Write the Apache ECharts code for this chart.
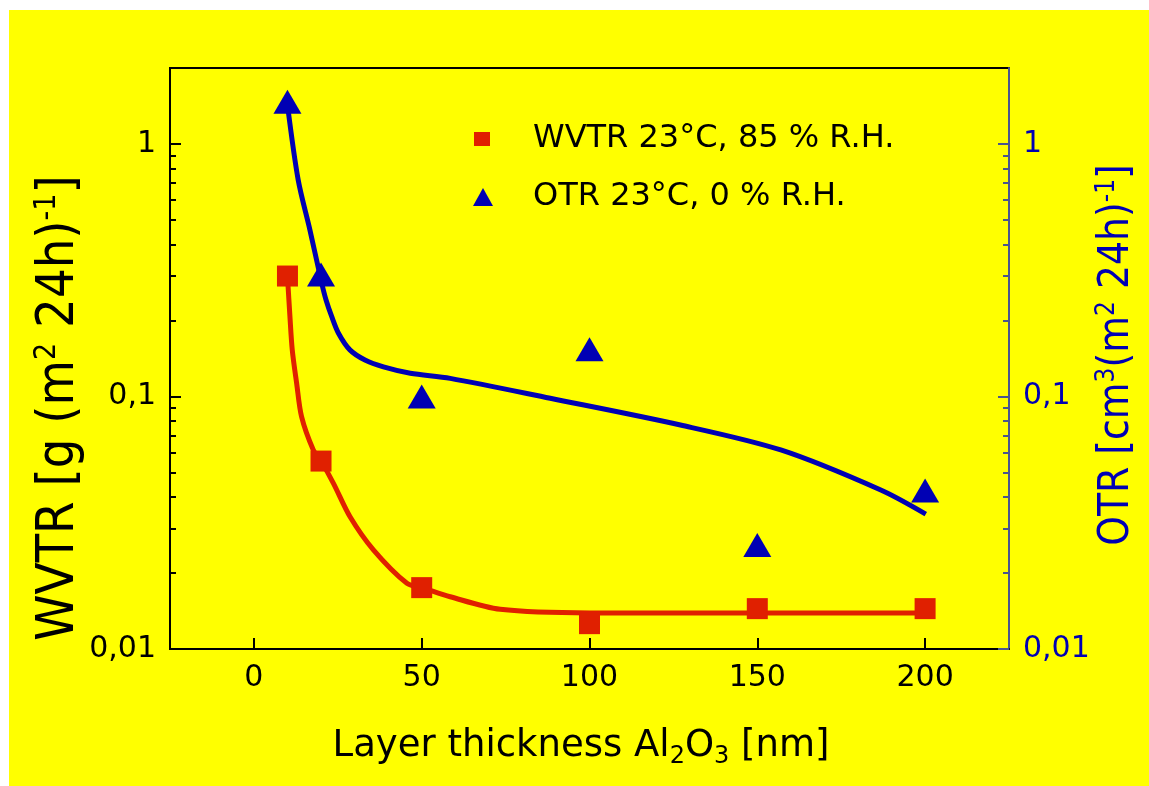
<!DOCTYPE html>
<html>
<head>
<meta charset="utf-8">
<title>WVTR / OTR vs Al2O3 layer thickness</title>
<script src="https://cdn.jsdelivr.net/npm/echarts@6/dist/echarts.min.js"></script>
<style>
  html, body { margin: 0; padding: 0; background: #fff; }
  #chart { width: 1149px; height: 786px; }
</style>
</head>
<body>
<div id="chart"></div>
<script>
const FONT = '"DejaVu Sans", sans-serif';
const FONT_C = '"DejaVu Sans Condensed", "DejaVu Sans", sans-serif';
const RED = '#e02000';
const BLUE = '#0000b4';

// measured points
const thickness = [10, 20, 50, 100, 150, 200];
const wvtr = [0.30, 0.0555, 0.0175, 0.0126, 0.01445, 0.01445];
const otr = [1.47, 0.304, 0.1, 0.154, 0.0258, 0.0424];

// fit curves
const wvtrFitX = [10, 10.74, 11.43, 12.74, 14.2, 17.7, 20, 23.7, 28.65, 35.6, 45.6, 50, 58.5, 73.4, 100, 150, 200];
const wvtrFitY = [0.30, 0.207, 0.1528, 0.1128, 0.0832, 0.0614, 0.0555, 0.0453, 0.0334, 0.0247, 0.0182, 0.0175, 0.0161, 0.01436, 0.0139, 0.0139, 0.0139];
const otrFitX = [10, 13.2, 16.7, 20.2, 21.5, 23.2, 25.2, 28.6, 33.1, 38.6, 46.6, 58.5, 88.3, 127.1, 157, 186.8, 200.2];
const otrFitY = [1.43, 0.72, 0.456, 0.2815, 0.241, 0.207, 0.178, 0.153, 0.1395, 0.131, 0.1236, 0.118, 0.0984, 0.0771, 0.0614, 0.0426, 0.0342];

// ticks
const xTicks = [0, 50, 100, 150, 200];
const yMajor = [0.01, 0.1, 1];
const yMinor = [0.02, 0.03, 0.04, 0.05, 0.06, 0.07, 0.08, 0.09,
                0.2, 0.3, 0.4, 0.5, 0.6, 0.7, 0.8, 0.9];

const pairs = (xs, ys) => xs.map((x, i) => [x, ys[i]]);
const comma = v => String(v).replace('.', ',');

function logAxis(side, color, lineColor) {
  return {
    type: 'log', logBase: 10, min: 0.01, max: 2, position: side,
    axisLine: { show: true, onZero: false, lineStyle: { color: lineColor, width: 2 } },
    axisTick: { inside: true, length: 11, customValues: yMajor, lineStyle: { color: lineColor, width: 2 } },
    axisLabel: { customValues: yMajor, formatter: comma, color: color, fontFamily: FONT, fontSize: 30, margin: 14 },
    splitLine: { show: false }
  };
}
function minorAxis(side, lineColor) {
  return {
    type: 'log', logBase: 10, min: 0.01, max: 2, position: side,
    axisLine: { show: false, onZero: false },
    axisTick: { inside: true, length: 6, customValues: yMinor, lineStyle: { color: lineColor, width: 2 } },
    axisLabel: { show: false },
    splitLine: { show: false }
  };
}

const chart = echarts.init(document.getElementById('chart'));
chart.setOption({
  backgroundColor: '#fff',
  animation: false,
  textStyle: { fontFamily: FONT },
  grid: { left: 170, right: 140, top: 68, bottom: 137, show: true, borderColor: '#000', borderWidth: 2, backgroundColor: 'transparent' },
  xAxis: {
    type: 'value', min: -25, max: 225,
    axisLine: { onZero: false, lineStyle: { color: '#000', width: 2 } },
    axisTick: { inside: true, length: 11, customValues: xTicks, lineStyle: { color: '#000', width: 2 } },
    axisLabel: { customValues: xTicks, color: '#000', fontFamily: FONT, fontSize: 30, margin: 14 },
    splitLine: { show: false }
  },
  yAxis: [
    logAxis('left', '#000', '#000'),
    minorAxis('left', '#000'),
    logAxis('right', BLUE, '#4a5590'),
    minorAxis('right', '#4a5590')
  ],
  legend: [
    {
      data: [{ name: 'WVTR 23°C, 85 % R.H.', icon: 'rect' }],
      left: 469, top: 118, itemWidth: 16, itemHeight: 14,
      textStyle: { fontFamily: FONT, fontSize: 32, color: '#000', padding: [0, 0, 0, 38] }
    },
    {
      data: [{ name: 'OTR 23°C, 0 % R.H.', icon: 'triangle' }],
      left: 468, top: 176, itemWidth: 20, itemHeight: 18,
      textStyle: { fontFamily: FONT, fontSize: 32, color: '#000', padding: [0, 0, 0, 35] }
    }
  ],
  graphic: [
    { type: 'rect', z: -10, silent: true, shape: { x: 9, y: 10, width: 1140, height: 776 }, style: { fill: '#ffff00' } },
    {
      type: 'text', x: 581, y: 746,
      style: {
        text: 'Layer thickness Al{sub|2}O{sub|3} [nm]',
        font: '37px ' + FONT, fill: '#000', align: 'center', verticalAlign: 'middle',
        rich: { sub: { fontSize: 24, fontFamily: FONT, verticalAlign: 'bottom', padding: [22, 0, 0, 0] } }
      }
    },
    {
      type: 'text', x: 59, y: 408, rotation: Math.PI / 2,
      style: {
        text: 'WVTR [g (m{sup|2} 24h){sup|-1}]',
        font: '52px ' + FONT_C, fill: '#000', align: 'center', verticalAlign: 'middle',
        rich: { sup: { fontSize: 30, fontFamily: FONT_C, verticalAlign: 'top', padding: [0, 0, 24, 0] } }
      }
    },
    {
      type: 'text', x: 1117, y: 355, rotation: Math.PI / 2,
      style: {
        text: 'OTR [cm{sup|3}(m{sup|2} 24h){sup|-1}]',
        font: '42px ' + FONT_C, fill: BLUE, align: 'center', verticalAlign: 'middle',
        rich: { sup: { fontSize: 26, fontFamily: FONT_C, verticalAlign: 'top', padding: [0, 0, 20, 0] } }
      }
    }
  ],
  series: [
    {
      name: 'WVTR fit', type: 'line', yAxisIndex: 0, data: pairs(wvtrFitX, wvtrFitY),
      smooth: 0.3, showSymbol: false, lineStyle: { color: RED, width: 5 }, z: 2
    },
    {
      name: 'OTR fit', type: 'line', yAxisIndex: 2, data: pairs(otrFitX, otrFitY),
      smooth: 0.3, showSymbol: false, lineStyle: { color: BLUE, width: 5 }, z: 2
    },
    {
      name: 'WVTR 23°C, 85 % R.H.', type: 'scatter', yAxisIndex: 0, data: pairs(thickness, wvtr),
      symbol: 'rect', symbolSize: 21, itemStyle: { color: RED, opacity: 1 }, z: 3
    },
    {
      name: 'OTR 23°C, 0 % R.H.', type: 'scatter', yAxisIndex: 2, data: pairs(thickness, otr),
      symbol: 'triangle', symbolSize: [28, 24], itemStyle: { color: BLUE, opacity: 1 }, z: 3
    }
  ]
});
</script>
</body>
</html>
